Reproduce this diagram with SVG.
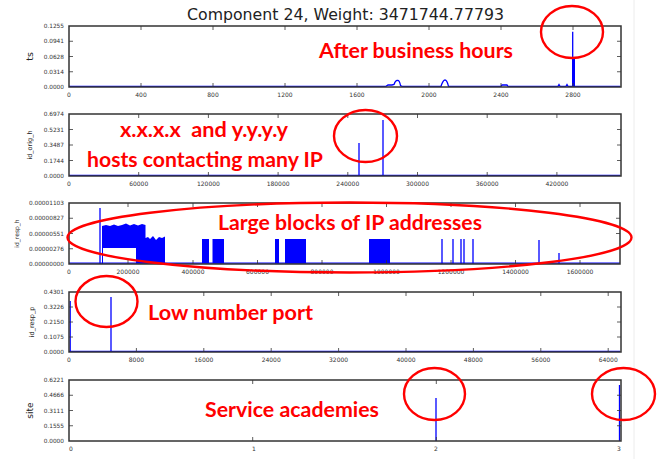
<svg xmlns="http://www.w3.org/2000/svg" width="662" height="459" viewBox="0 0 662 459">
  <style>
    .frame { fill: none; stroke: #333; stroke-width: 1.5; }
    .tick { fill: none; stroke: #333; stroke-width: 0.8; }
    .tl { font-family: "DejaVu Sans", sans-serif; font-size: 5.8px; fill: #333; }
    .tlx { font-family: "DejaVu Sans", sans-serif; font-size: 6px; fill: #333; text-anchor: middle; }
    .tly { text-anchor: end; }
    .yl { font-family: "DejaVu Sans", sans-serif; fill: #222; text-anchor: middle; }
    .data { fill: none; stroke: #0000ff; stroke-width: 1.3; }
    .blk { fill: #0000ff; }
    .mark { fill: none; stroke: #ff0000; stroke-width: 2.4; }
    .note { font-family: Lato, "Open Sans", sans-serif; font-weight: bold; font-size: 20px; fill: #ff0000; }
    .title { font-family: "DejaVu Sans", sans-serif; font-size: 15px; fill: #222; text-anchor: middle; }
  </style>
  <rect width="662" height="459" fill="#fff"/>
  <line x1="634" y1="0" x2="634" y2="459" stroke="#ececec" stroke-width="1"/>

  <text class="title" x="345.5" y="20" textLength="317" lengthAdjust="spacingAndGlyphs">Component 24, Weight: 3471744.77793</text>

  <!-- ts -->
  <g id="panel-ts">
    <path class="data" d="M69 86.3H386L388 85H392L394 84.5Q395.5 80 397.5 80.5Q399.5 80 400.5 85.5L402 86.3H441Q443 80 445 80Q447 80 448.5 86.3H501L502 85H507L508 86.3H558L559 84.5L560 86.3H566L567 84.5L568 86.3H620"/>
    <line class="data" x1="572.7" y1="87" x2="572.7" y2="31.7" stroke-width="1.6"/>
    <rect class="blk" x="572" y="58" width="3" height="29"/>
    <rect class="frame" x="69" y="26" width="552" height="61"/>
    <path class="tick" d="M141 87v-4M213 87v-4M285 87v-4M357 87v-4M429 87v-4M501 87v-4M573 87v-4M141 26v4M213 26v4M285 26v4M357 26v4M429 26v4M501 26v4M573 26v4M69 41.25h4M69 56.5h4M69 71.75h4M621 41.25h-4M621 56.5h-4M621 71.75h-4"/>
    <g class="tl tly">
      <text x="64" y="28">0.1255</text><text x="64" y="43.25">0.0941</text><text x="64" y="58.5">0.0628</text><text x="64" y="73.75">0.0314</text><text x="64" y="89">0.0000</text>
    </g>
    <g class="tlx">
      <text x="69" y="96.5">0</text><text x="141" y="96.5">400</text><text x="213" y="96.5">800</text><text x="285" y="96.5">1200</text><text x="357" y="96.5">1600</text><text x="429" y="96.5">2000</text><text x="501" y="96.5">2400</text><text x="573" y="96.5">2800</text>
    </g>
    <text class="yl" font-size="9.5" transform="translate(33 56.5) rotate(-90)">ts</text>
  </g>

  <!-- id_orig_h -->
  <g id="panel-orig">
    <line class="data" x1="69" y1="175.3" x2="620" y2="175.3"/>
    <line class="data" x1="359" y1="176" x2="359" y2="143" stroke-width="1.5"/>
    <line class="data" x1="383" y1="176" x2="383" y2="120" stroke-width="1.5"/>
    <rect class="frame" x="69" y="114" width="552" height="62"/>
    <path class="tick" d="M138.7 176v-4M208.4 176v-4M278.1 176v-4M347.8 176v-4M417.5 176v-4M487.2 176v-4M556.9 176v-4M138.7 114v4M208.4 114v4M278.1 114v4M347.8 114v4M417.5 114v4M487.2 114v4M556.9 114v4M69 129.5h4M69 145h4M69 160.5h4M621 129.5h-4M621 145h-4M621 160.5h-4"/>
    <g class="tl tly">
      <text x="64" y="116">0.6974</text><text x="64" y="131.5">0.5231</text><text x="64" y="147">0.3487</text><text x="64" y="162.5">0.1744</text><text x="64" y="178">0.0000</text>
    </g>
    <g class="tlx">
      <text x="69" y="185.5">0</text><text x="138.7" y="185.5">60000</text><text x="208.4" y="185.5">120000</text><text x="278.1" y="185.5">180000</text><text x="347.8" y="185.5">240000</text><text x="417.5" y="185.5">300000</text><text x="487.2" y="185.5">360000</text><text x="556.9" y="185.5">420000</text>
    </g>
    <text class="yl" font-size="6.5" transform="translate(32 145) rotate(-90)">id_orig_h</text>
  </g>

  <!-- id_resp_h -->
  <g id="panel-resp-h">
    <line class="data" x1="69" y1="263.2" x2="620" y2="263.2" stroke-width="1"/>
    <line class="data" x1="100" y1="264" x2="100" y2="208" stroke-width="1.5"/>
    <path class="blk" d="M102 264V226L106 225L110 226L114 224.5L118 226L122 225L126 223.5L130 225.5L134 224L138 225.5L142 224L145.5 225V238L148 237L150 239L153 236L156 240L159 237L162 238L165 236.5V263.5H136V248H103V264Z"/>
    <rect class="blk" x="202" y="239" width="7" height="24.5"/>
    <rect class="blk" x="212.5" y="239" width="11.5" height="24.5"/>
    <rect class="blk" x="275" y="239" width="4" height="24.5"/>
    <rect class="blk" x="285" y="239" width="21" height="24.5"/>
    <rect class="blk" x="369" y="239" width="21" height="24.5"/>
    <path class="data" d="M442 264V239M453 264V239M461 264V239M464 264V239M473 264V239" stroke-width="1.6"/>
    <path class="data" d="M539 264V240M559 264V253" stroke-width="1"/>
    <rect class="frame" x="69" y="203" width="551" height="61"/>
    <path class="tick" d="M128 264v-4M193 264v-4M257.5 264v-4M322 264v-4M386.5 264v-4M451 264v-4M515.5 264v-4M580 264v-4M128 203v4M193 203v4M257.5 203v4M322 203v4M386.5 203v4M451 203v4M515.5 203v4M580 203v4M69 218.25h4M69 233.5h4M69 248.75h4M620 218.25h-4M620 233.5h-4M620 248.75h-4"/>
    <g class="tl tly">
      <text x="64" y="205">0.00001103</text><text x="64" y="220.25">0.00000827</text><text x="64" y="235.5">0.00000551</text><text x="64" y="250.75">0.00000276</text><text x="64" y="266">0.00000000</text>
    </g>
    <g class="tlx">
      <text x="69" y="273.5">0</text><text x="128" y="273.5">200000</text><text x="193" y="273.5">400000</text><text x="257.5" y="273.5">600000</text><text x="322" y="273.5">800000</text><text x="386.5" y="273.5">1000000</text><text x="451" y="273.5">1200000</text><text x="515.5" y="273.5">1400000</text><text x="580" y="273.5">1600000</text>
    </g>
    <text class="yl" font-size="6" transform="translate(19 233.5) rotate(-90)">id_resp_h</text>
  </g>

  <!-- id_resp_p -->
  <g id="panel-resp-p">
    <line class="data" x1="69" y1="351.3" x2="620" y2="351.3"/>
    <line class="data" x1="70.2" y1="352" x2="70.2" y2="301" stroke-width="1.4"/>
    <line class="data" x1="111" y1="352" x2="111" y2="297" stroke-width="1.5"/>
    <rect class="frame" x="69" y="292" width="552" height="60"/>
    <path class="tick" d="M136.4 352v-4M203.8 352v-4M271.2 352v-4M338.6 352v-4M406 352v-4M473.4 352v-4M540.8 352v-4M608.2 352v-4M136.4 292v4M203.8 292v4M271.2 292v4M338.6 292v4M406 292v4M473.4 292v4M540.8 292v4M608.2 292v4M69 307h4M69 322h4M69 337h4M621 307h-4M621 322h-4M621 337h-4"/>
    <g class="tl tly">
      <text x="64" y="294">0.4301</text><text x="64" y="309">0.3226</text><text x="64" y="324">0.2150</text><text x="64" y="339">0.1075</text><text x="64" y="354">0.0000</text>
    </g>
    <g class="tlx">
      <text x="69" y="361.5">0</text><text x="136.4" y="361.5">8000</text><text x="203.8" y="361.5">16000</text><text x="271.2" y="361.5">24000</text><text x="338.6" y="361.5">32000</text><text x="406" y="361.5">40000</text><text x="473.4" y="361.5">48000</text><text x="540.8" y="361.5">56000</text><text x="608.2" y="361.5">64000</text>
    </g>
    <text class="yl" font-size="6.5" transform="translate(34 322) rotate(-90)">id_resp_p</text>
  </g>

  <!-- site -->
  <g id="panel-site">
    <line class="data" x1="436" y1="441" x2="436" y2="398" stroke-width="1.5"/>
    <line class="data" x1="619.5" y1="441" x2="619.5" y2="385" stroke-width="1.8"/>
    <rect class="frame" x="69" y="380" width="552" height="61"/>
    <path class="tick" d="M252.7 441v-4M436.3 441v-4M252.7 380v4M436.3 380v4M69 395.25h4M69 410.5h4M69 425.75h4M621 395.25h-4M621 410.5h-4M621 425.75h-4"/>
    <g class="tl tly">
      <text x="64" y="382">0.6221</text><text x="64" y="397.25">0.4666</text><text x="64" y="412.5">0.3111</text><text x="64" y="427.75">0.1555</text><text x="64" y="443">0.0000</text>
    </g>
    <g class="tlx">
      <text x="71" y="450.5">0</text><text x="254" y="450.5">1</text><text x="436" y="450.5">2</text><text x="619" y="450.5">3</text>
    </g>
    <text class="yl" font-size="9" transform="translate(33 410.5) rotate(-90)">site</text>
  </g>

  <!-- highlight rings and callouts -->
  <g id="callouts">
    <ellipse class="mark" cx="572" cy="32" rx="31" ry="26"/>
    <ellipse class="mark" cx="365.5" cy="136" rx="31.5" ry="26"/>
    <ellipse class="mark" cx="349.5" cy="237.5" rx="282" ry="35"/>
    <ellipse class="mark" cx="106.5" cy="301.5" rx="31" ry="25.5"/>
    <ellipse class="mark" cx="434.5" cy="394" rx="30.5" ry="26"/>
    <ellipse class="mark" cx="623.5" cy="394" rx="31.5" ry="26"/>
    <text class="note" x="319" y="58" textLength="194" lengthAdjust="spacingAndGlyphs">After business hours</text>
    <text class="note" x="120" y="136.5" textLength="168" lengthAdjust="spacingAndGlyphs" xml:space="preserve">x.x.x.x  and y.y.y.y</text>
    <text class="note" x="87" y="167" textLength="236" lengthAdjust="spacingAndGlyphs">hosts contacting many IP</text>
    <text class="note" x="218" y="230" textLength="264" lengthAdjust="spacingAndGlyphs">Large blocks of IP addresses</text>
    <text class="note" x="148" y="320" textLength="165" lengthAdjust="spacingAndGlyphs">Low number port</text>
    <text class="note" x="205" y="417" textLength="174" lengthAdjust="spacingAndGlyphs">Service academies</text>
  </g>
</svg>
